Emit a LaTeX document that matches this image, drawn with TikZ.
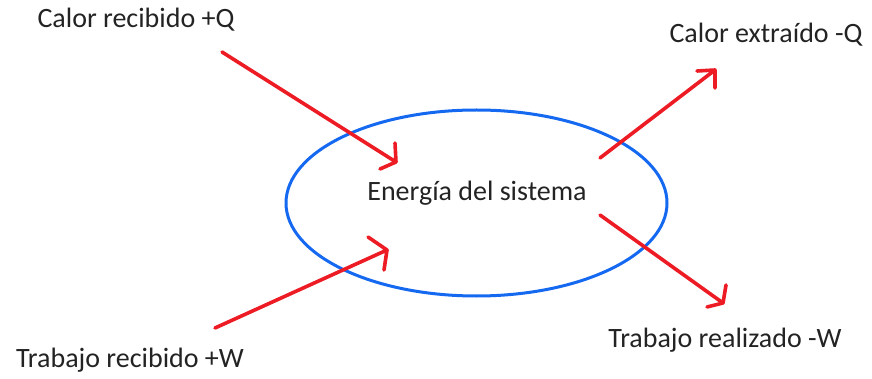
\documentclass[tikz,border=0pt]{standalone}
\usepackage{fontspec}
\setmainfont{Carlito}
\definecolor{pred}{RGB}{237,28,36}
\definecolor{pblue}{RGB}{20,105,240}
\definecolor{ptext}{RGB}{35,35,35}
\begin{document}
\begin{tikzpicture}[x=1pt,y=-1pt,
  lbl/.style={font=\fontsize{28}{32}\selectfont,text=ptext,inner sep=0pt},
  redline/.style={draw=pred,line width=3.6pt,line cap=round,line join=round}]
\useasboundingbox (0,0) rectangle (872,379);
\draw[pblue,line width=3pt] (476.5,203) ellipse [x radius=190.5,y radius=93];
\node[lbl] (cr) at (136,20) {Calor recibido +Q};
\node[lbl] (ce) at (766,35) {Calor extraído -Q};
\node[lbl] (es) at (477,193) {Energía del sistema};
\node[lbl] (tr) at (130,360) {Trabajo recibido +W};
\node[lbl] (tz) at (725,340) {Trabajo realizado -W};
% arrow 1
\coordinate (a1s) at (222,52); \coordinate (a1t) at (396,162);
\draw[redline] (a1s) -- (a1t) (395,143) -- (a1t) -- (380,169);
% arrow 2
\coordinate (a2s) at (215,328); \coordinate (a2t) at (387,250);
\draw[redline] (a2s) -- (a2t) (368,237) -- (a2t) -- (384,270);
% arrow 3
\coordinate (a3s) at (600,158); \coordinate (a3t) at (715,70);
\draw[redline] (a3s) -- (a3t) (697,71) -- (a3t) -- (715,88);
% arrow 4
\coordinate (a4s) at (600,215); \coordinate (a4t) at (723,303);
\draw[redline] (a4s) -- (a4t) (726,285) -- (a4t) -- (707,307);
\end{tikzpicture}
\end{document}
